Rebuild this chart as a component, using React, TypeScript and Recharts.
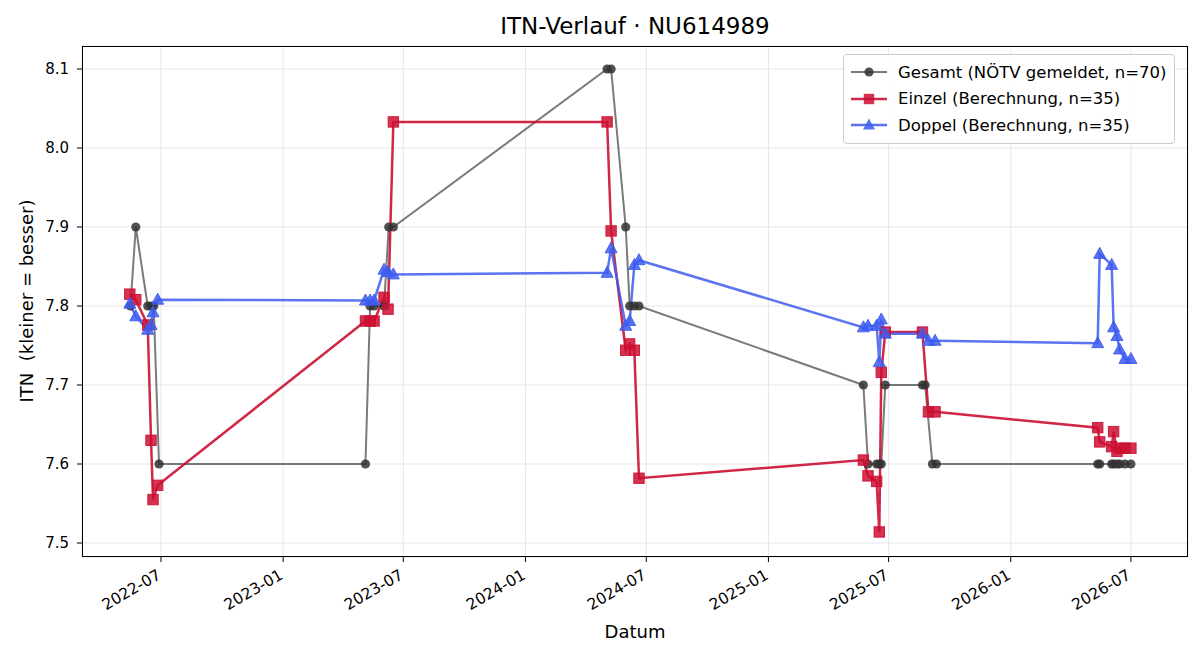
import React from "react";
import { CartesianGrid, Line, LineChart, XAxis, YAxis } from "recharts";

// Match dates shared by the Einzel and Doppel calculations (n=35 each)
const matchDates = [
  "2022-05-15", "2022-05-24", "2022-06-11", "2022-06-16", "2022-06-19", "2022-06-26",
  "2023-05-05", "2023-05-12", "2023-05-18", "2023-06-02", "2023-06-08", "2023-06-16",
  "2024-05-03", "2024-05-09", "2024-05-31", "2024-06-06", "2024-06-13", "2024-06-20",
  "2025-05-24", "2025-05-31", "2025-06-13", "2025-06-17", "2025-06-20", "2025-06-26",
  "2025-08-21", "2025-08-30", "2025-09-09",
  "2026-05-12", "2026-05-15", "2026-06-02", "2026-06-05", "2026-06-10", "2026-06-14",
  "2026-06-22", "2026-07-01",
];

const einzelValues = [
  7.815, 7.808, 7.776, 7.63, 7.555, 7.573,
  7.781, 7.781, 7.781, 7.811, 7.796, 8.033,
  8.033, 7.895, 7.744, 7.752, 7.744, 7.582,
  7.605, 7.585, 7.578, 7.514, 7.716, 7.767,
  7.767, 7.666, 7.666,
  7.646, 7.628, 7.622, 7.641, 7.616, 7.62,
  7.62, 7.62,
];

const doppelValues = [
  7.803, 7.787, 7.77, 7.776, 7.792, 7.808,
  7.807, 7.807, 7.807, 7.846, 7.843, 7.84,
  7.842, 7.873, 7.775, 7.781, 7.852, 7.858,
  7.773, 7.775, 7.775, 7.729, 7.783, 7.765,
  7.765, 7.756, 7.756,
  7.753, 7.866, 7.852, 7.773, 7.762, 7.745,
  7.733, 7.733,
];

// Reported overall ITN (NÖTV)
const gesamtDates = [
  "2022-05-16", "2022-05-24", "2022-06-11", "2022-06-16", "2022-06-20", "2022-06-28",
  "2023-05-05", "2023-05-12", "2023-05-18", "2023-06-02", "2023-06-09", "2023-06-16",
  "2024-05-03", "2024-05-09", "2024-05-31", "2024-06-06", "2024-06-13", "2024-06-20",
  "2025-05-24", "2025-05-31", "2025-06-13", "2025-06-17", "2025-06-20", "2025-06-26",
  "2025-08-21", "2025-08-25", "2025-09-05", "2025-09-11",
  "2026-05-12", "2026-05-15", "2026-06-02", "2026-06-05", "2026-06-10", "2026-06-14",
  "2026-06-22", "2026-07-01",
];

const gesamtValues = [
  7.8, 7.9, 7.8, 7.8, 7.8, 7.6,
  7.6, 7.8, 7.8, 7.8, 7.9, 7.9,
  8.1, 8.1, 7.9, 7.8, 7.8, 7.8,
  7.7, 7.6, 7.6, 7.6, 7.6, 7.7,
  7.7, 7.7, 7.6, 7.6,
  7.6, 7.6, 7.6, 7.6, 7.6, 7.6,
  7.6, 7.6,
];

const xTickLabels = [
  "2022-07", "2023-01", "2023-07", "2024-01", "2024-07",
  "2025-01", "2025-07", "2026-01", "2026-07",
];
const yTicks = [7.5, 7.6, 7.7, 7.8, 7.9, 8.0, 8.1];

const FONT = "'DejaVu Sans', sans-serif";
const GRAY = "#333333";
const RED = "#cc1033";
const BLUE = "#3d5cf0";

const toMs = (d: string) => Date.parse(d);

const gesamtData = gesamtDates.map((d, i) => ({ t: toMs(d), v: gesamtValues[i] }));
const einzelData = matchDates.map((d, i) => ({ t: toMs(d), v: einzelValues[i] }));
const doppelData = matchDates.map((d, i) => ({ t: toMs(d), v: doppelValues[i] }));
const xTicks = xTickLabels.map((l) => toMs(l + "-01"));

const xDomain = [toMs("2022-03-04"), toMs("2026-09-25")];
const yDomain = [7.4823, 8.1291];

function fmtMonth(ms: number): string {
  const d = new Date(ms);
  return `${d.getUTCFullYear()}-${String(d.getUTCMonth() + 1).padStart(2, "0")}`;
}

function DateTick(props: any) {
  const { x, y, payload } = props;
  return (
    <g transform={`translate(${x + 1},${y + 14})`}>
      <text
        transform="rotate(-30)"
        textAnchor="end"
        fontSize={15.5}
        fontFamily={FONT}
        fill="#000"
      >
        {fmtMonth(payload.value)}
      </text>
    </g>
  );
}

function circleDot(props: any) {
  const { cx, cy, index } = props;
  if (cx == null || cy == null) return <g key={`g-${index}`} />;
  return (
    <circle key={`g-${index}`} cx={cx} cy={cy} r={4.6} fill={GRAY} fillOpacity={0.85} stroke="none" />
  );
}

function squareDot(props: any) {
  const { cx, cy, index } = props;
  if (cx == null || cy == null) return <g key={`e-${index}`} />;
  return (
    <rect
      key={`e-${index}`}
      x={cx - 5.2}
      y={cy - 5.2}
      width={10.4}
      height={10.4}
      fill={RED}
      fillOpacity={0.85}
      stroke={RED}
      strokeOpacity={0.9}
      strokeWidth={1}
    />
  );
}

function triangleDot(props: any) {
  const { cx, cy, index } = props;
  if (cx == null || cy == null) return <g key={`d-${index}`} />;
  const pts = `${cx},${cy - 6.5} ${cx + 6},${cy + 4.5} ${cx - 6},${cy + 4.5}`;
  return (
    <polygon
      key={`d-${index}`}
      points={pts}
      fill={BLUE}
      fillOpacity={0.85}
      stroke={BLUE}
      strokeOpacity={0.9}
      strokeWidth={1}
    />
  );
}

const legendItems = [
  { label: "Gesamt (NÖTV gemeldet, n=70)", color: GRAY, opacity: 0.65, width: 2, marker: "circle" },
  { label: "Einzel (Berechnung, n=35)", color: RED, opacity: 0.9, width: 2.5, marker: "square" },
  { label: "Doppel (Berechnung, n=35)", color: BLUE, opacity: 0.85, width: 2.5, marker: "triangle" },
];

function LegendBox() {
  return (
    <div
      style={{
        position: "absolute",
        left: 843,
        top: 54,
        background: "rgba(255,255,255,0.85)",
        border: "1px solid #cccccc",
        borderRadius: 4,
        padding: "4px 7px 4px 7px",
        fontFamily: FONT,
        fontSize: 16.5,
        color: "#000",
      }}
    >
      {legendItems.map((it) => (
        <div key={it.label} style={{ display: "flex", alignItems: "center", height: 26.5 }}>
          <svg width={36} height={16} style={{ marginRight: 11 }}>
            <line
              x1={0}
              y1={8}
              x2={36}
              y2={8}
              stroke={it.color}
              strokeOpacity={it.opacity}
              strokeWidth={it.width}
            />
            {it.marker === "circle" && <circle cx={18} cy={8} r={4.6} fill={it.color} fillOpacity={0.85} />}
            {it.marker === "square" && (
              <rect x={12.8} y={2.8} width={10.4} height={10.4} fill={it.color} fillOpacity={0.85} />
            )}
            {it.marker === "triangle" && (
              <polygon points="18,1.5 24,12.5 12,12.5" fill={it.color} fillOpacity={0.85} />
            )}
          </svg>
          <span style={{ whiteSpace: "nowrap" }}>{it.label}</span>
        </div>
      ))}
    </div>
  );
}

export default function App() {
  return (
    <div
      style={{
        position: "absolute",
        left: 0,
        top: 0,
        width: 1200,
        height: 660,
        background: "#fff",
        fontFamily: FONT,
      }}
    >
      <div
        style={{
          position: "absolute",
          left: 82,
          width: 1106,
          top: 13,
          textAlign: "center",
          fontSize: 23,
          color: "#000",
        }}
      >
        ITN-Verlauf · NU614989
      </div>
      <LineChart
        width={1200}
        height={660}
        margin={{ top: 46, right: 12, bottom: 0, left: 0 }}
      >
        <CartesianGrid stroke="#e6e6e6" strokeWidth={1} />
        <XAxis
          dataKey="t"
          type="number"
          domain={xDomain}
          ticks={xTicks}
          allowDataOverflow
          height={103}
          axisLine={false}
          tickLine={{ stroke: "#000", strokeWidth: 1 }}
          tickSize={5}
          tickMargin={2}
          tick={<DateTick />}
          interval={0}
        />
        <YAxis
          dataKey="v"
          type="number"
          domain={yDomain}
          ticks={yTicks}
          allowDataOverflow
          width={82}
          axisLine={false}
          tickLine={{ stroke: "#000", strokeWidth: 1 }}
          tickSize={5}
          tickMargin={8}
          tick={{ fontSize: 15, fontFamily: FONT, fill: "#000" }}
          tickFormatter={(v: number) => v.toFixed(1)}
          interval={0}
        />
        <Line
          data={gesamtData}
          dataKey="v"
          name="Gesamt"
          type="linear"
          stroke={GRAY}
          strokeOpacity={0.65}
          strokeWidth={2}
          dot={circleDot}
          activeDot={false}
          isAnimationActive={false}
        />
        <Line
          data={einzelData}
          dataKey="v"
          name="Einzel"
          type="linear"
          stroke={RED}
          strokeOpacity={0.9}
          strokeWidth={2.5}
          dot={squareDot}
          activeDot={false}
          isAnimationActive={false}
        />
        <Line
          data={doppelData}
          dataKey="v"
          name="Doppel"
          type="linear"
          stroke={BLUE}
          strokeOpacity={0.85}
          strokeWidth={2.5}
          dot={triangleDot}
          activeDot={false}
          isAnimationActive={false}
        />
      </LineChart>
      <div
        style={{
          position: "absolute",
          left: 82,
          top: 46,
          width: 1106,
          height: 511,
          boxSizing: "border-box",
          border: "1px solid #000",
          pointerEvents: "none",
        }}
      />
      <LegendBox />
      <div
        style={{
          position: "absolute",
          left: 82,
          width: 1106,
          top: 621,
          textAlign: "center",
          fontSize: 18,
          color: "#000",
        }}
      >
        Datum
      </div>
      <div
        style={{
          position: "absolute",
          left: 26,
          top: 301,
          transform: "translate(-50%, -50%) rotate(-90deg)",
          fontSize: 18,
          whiteSpace: "pre",
          color: "#000",
        }}
      >
        {"ITN  (kleiner = besser)"}
      </div>
    </div>
  );
}
